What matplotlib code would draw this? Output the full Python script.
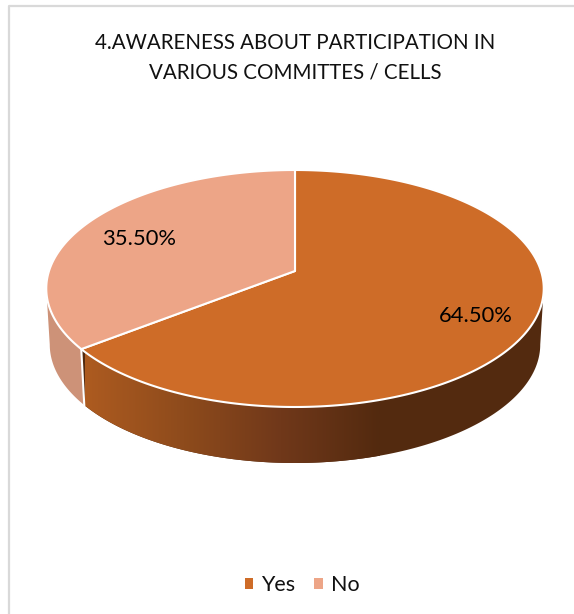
import numpy as np
import matplotlib
matplotlib.use('Agg')
import matplotlib.pyplot as plt
from matplotlib.colors import LinearSegmentedColormap
from matplotlib.patches import Patch, Polygon

plt.rcParams['font.family'] = ['Lato', 'DejaVu Sans']

title = '4.AWARENESS ABOUT PARTICIPATION IN\nVARIOUS COMMITTES / CELLS'
labels = ['Yes', 'No']
values = [64.5, 35.5]
colors = ['#CE6C28', '#EDA587']

# pie geometry in pixels, tilted view is a projective map of the unit circle
cx, cy = 295, 288.5
rx, ry = 246, 118.5
k = 0.1477
depth = 56
shrink = 0.986
# widest points of the rim sit a little below 3 and 9 o'clock
widest = np.arccos(-k)


def project(theta, r=1.0, lower=False):
    # theta is clockwise from 12 o'clock
    u = r * np.sin(theta)
    v = r * np.cos(theta)
    w = 1 + k * v
    x = rx * u / w
    y = (ry * v + ry * k) / w
    if lower:
        return cx + shrink * x, cy - y + depth
    return cx + x, cy - y


def wall(t0, t1):
    t = np.linspace(t0, t1, 200)
    x0, y0 = project(t)
    x1, y1 = project(t[::-1], lower=True)
    return np.column_stack([np.r_[x0, x1], np.r_[y0, y1]])


fig = plt.figure(figsize=(5.74, 6.14), dpi=100)
ax = fig.add_axes([0, 0, 1, 1])
ax.set_xlim(0, 574)
ax.set_ylim(614, 0)
ax.axis('off')

# chart frame
ax.plot([9, 9, 574], [614, 6, 6], color='#D9D9D9', lw=1.6)

edges = np.r_[0, np.cumsum(values)] / np.sum(values) * 2 * np.pi

# side walls
side = Polygon(wall(edges[1], 2 * np.pi - widest), closed=True, fc='#CD9278', ec='none', zorder=1)
ax.add_patch(side)

shade = LinearSegmentedColormap.from_list('side', ['#AD5B20', '#8E4B1C', '#70381A', '#532A0F'])
ramp = np.linspace(0, 1, 256).reshape(1, -1)
front = Polygon(wall(widest, edges[1]), closed=True, fc='none', ec='none', zorder=2)
ax.add_patch(front)
# gradient runs from the slice border to about 3/4 across, flat after that
img = ax.imshow(ramp, cmap=shade, extent=[85, 380, 614, 0], aspect='auto', zorder=2)
img.set_clip_path(front)
dark = Polygon(wall(widest, edges[1]), closed=True, fc='#532A0F', ec='none', zorder=1.5)
ax.add_patch(dark)

# white seam between the two walls
xa, ya = project(edges[1])
xb, yb = project(edges[1], lower=True)
ax.plot([xa, xb], [ya, yb], color='white', lw=1.5, zorder=3)

# top faces
for i in range(len(values)):
    t = np.linspace(edges[i], edges[i + 1], 300)
    x, y = project(t)
    mx, my = project(0.0, r=0.0)
    ax.add_patch(Polygon(np.column_stack([np.r_[mx, x], np.r_[my, y]]), closed=True,
                         fc=colors[i], ec='white', lw=1.5, joinstyle='round', zorder=4))

# data labels
ax.text(476, 316, '{:.2f}%'.format(values[0]), ha='center', va='center', fontsize=15.8, color='black', zorder=5)
ax.text(139, 239, '{:.2f}%'.format(values[1]), ha='center', va='center', fontsize=15.8, color='black', zorder=5)

ax.text(295.5, 58, title, ha='center', va='center', fontsize=14.8, color='#111111', linespacing=1.61)

handles = [Patch(fc=c, ec='none') for c in colors]
ax.legend(handles, labels, loc='center', bbox_to_anchor=(302 / 574, 1 - 585 / 614), ncol=2,
          frameon=False, fontsize=15.5, handlelength=0.39, handleheight=0.39,
          handletextpad=0.37, columnspacing=0.88, labelcolor='#111111',
          borderpad=0, borderaxespad=0)

ax.set_xlim(0, 574)
ax.set_ylim(614, 0)
fig.savefig('out.png', dpi=100, facecolor='white')
